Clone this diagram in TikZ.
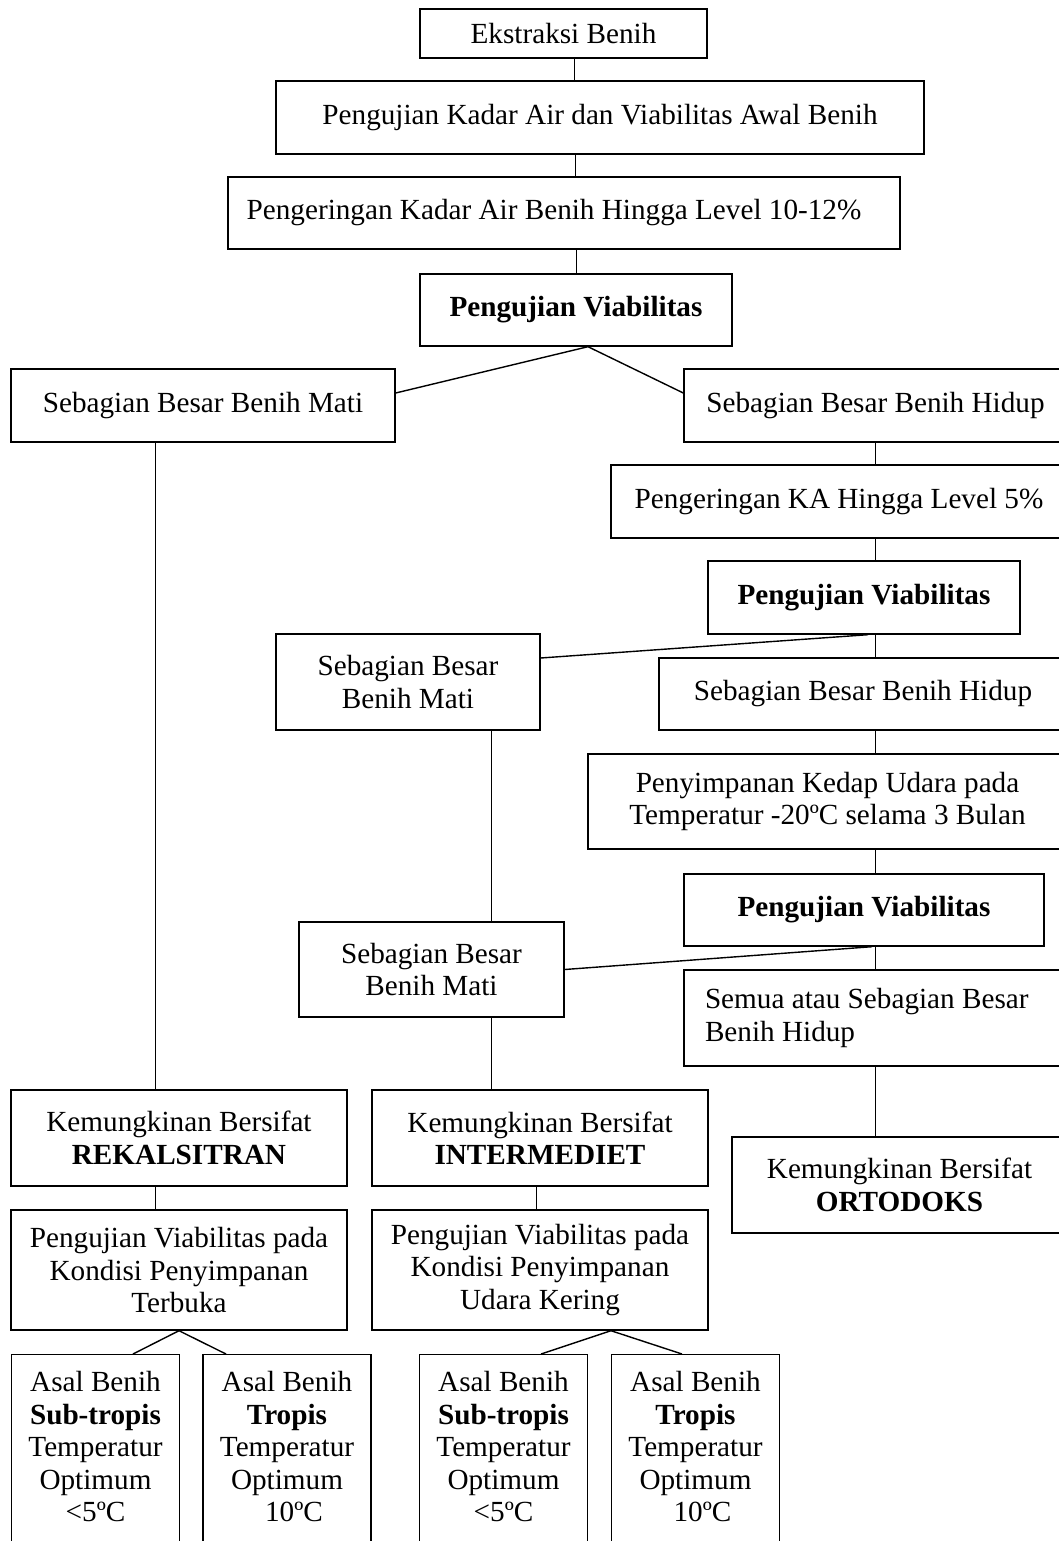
\documentclass[tikz,border=0pt]{standalone}
\usepackage{fontspec}
\setmainfont{Liberation Serif}
\newcommand{\leaftext}[1]{\parbox[t][200pt][t]{168pt}{\centering #1}}

\begin{document}
\begin{tikzpicture}[x=1pt,y=-1pt,
  every node/.style={font=\fontsize{29.2}{32.5}\selectfont},
  box/.style={draw,line width=1.4pt,inner sep=0pt,align=center},
  leaf/.style={draw,line width=1.4pt,anchor=north,inner xsep=0pt,inner ysep=17pt},
  link/.style={line width=1pt},
  fork/.style={line width=1.4pt}]
\useasboundingbox (0,0) rectangle (1059,1541);
\clip (0,0) rectangle (1059,1541);
\node[box,minimum width=287,minimum height=49] (ekstraksi) at (563.5,33.5) {Ekstraksi Benih};
\node[box,minimum width=648,minimum height=73] (ujiawal) at (600,117.5) {Pengujian Kadar Air dan Viabilitas Awal Benih};
\node[box,minimum width=672,minimum height=72] (kering1) at (564,213) {Pengeringan Kadar Air Benih Hingga Level 10-12\%\hspace*{20pt}};
\node[box,minimum width=312,minimum height=72] (uji1) at (576,310) {\textbf{Pengujian Viabilitas}};
\node[box,minimum width=384,minimum height=73] (mati1) at (203,405.5) {Sebagian Besar Benih Mati};
\node[box,minimum width=383,minimum height=73] (hidup1) at (875.5,405.5) {Sebagian Besar Benih Hidup};
\node[box,minimum width=456,minimum height=73] (kering2) at (839,501.5) {Pengeringan KA Hingga Level 5\%};
\node[box,minimum width=312,minimum height=73] (uji2) at (864,597.5) {\textbf{Pengujian Viabilitas}};
\node[box,minimum width=264,minimum height=96] (mati2) at (408,682) {Sebagian Besar\\Benih Mati};
\node[box,minimum width=408,minimum height=72] (hidup2) at (863,694) {Sebagian Besar Benih Hidup};
\node[box,minimum width=479,minimum height=95] (simpan) at (827.5,801.5) {Penyimpanan Kedap Udara pada\\Temperatur -20ºC selama 3 Bulan};
\node[box,minimum width=360,minimum height=72] (uji3) at (864,910) {\textbf{Pengujian Viabilitas}};
\node[box,minimum width=265,minimum height=95] (mati3) at (431.5,969.5) {Sebagian Besar\\Benih Mati};
\node[box,align=flush left,text width=341,inner xsep=21,minimum height=96] (semua) at (875.5,1018) {Semua atau Sebagian Besar\\Benih Hidup};
\node[box,minimum width=336,minimum height=96] (rekal) at (179,1138) {Kemungkinan Bersifat\\\textbf{REKALSITRAN}};
\node[box,minimum width=336,minimum height=96] (inter) at (540,1138) {Kemungkinan Bersifat\\\textbf{INTERMEDIET}};
\node[box,minimum width=335,minimum height=96] (orto) at (899.5,1185) {Kemungkinan Bersifat\\\textbf{ORTODOKS}};
\node[box,minimum width=336,minimum height=120] (terbuka) at (179,1270) {Pengujian Viabilitas pada\\Kondisi Penyimpanan\\Terbuka};
\node[box,minimum width=336,minimum height=120] (udara) at (540,1270) {Pengujian Viabilitas pada\\Kondisi Penyimpanan\\Udara Kering};
\node[leaf] (leafa) at (95.5,1354) {\leaftext{Asal Benih\\\textbf{Sub-tropis}\\Temperatur\\Optimum\\<5ºC}};
\node[leaf] (leafb) at (287,1354) {\leaftext{Asal Benih\\\textbf{Tropis}\\Temperatur\\Optimum\\\hspace*{14pt}10ºC}};
\node[leaf] (leafc) at (503.5,1354) {\leaftext{Asal Benih\\\textbf{Sub-tropis}\\Temperatur\\Optimum\\<5ºC}};
\node[leaf] (leafd) at (695.5,1354) {\leaftext{Asal Benih\\\textbf{Tropis}\\Temperatur\\Optimum\\\hspace*{14pt}10ºC}};
\draw[link] ([xshift=10.5pt]ekstraksi.south) -- ([xshift=10.5pt]ekstraksi.south |- ujiawal.north);
\draw[link] ([xshift=11pt]kering1.north) -- ([xshift=11pt]kering1.north |- ujiawal.south);
\draw[link] (uji1.north) -- (uji1.north |- kering1.south);
\draw[fork] ([yshift=12.5pt]mati1.east) -- ([xshift=12pt]uji1.south) -- ([yshift=12.5pt]hidup1.west);
\draw[link] ([xshift=-48pt]mati1.south) -- ([xshift=-48pt]mati1.south |- rekal.north);
\draw[link] (hidup1.south) -- (hidup1.south |- kering2.north);
\draw[link] (kering2.south -| hidup1) -- (uji2.north -| hidup1);
\draw[fork] ([yshift=24pt]mati2.east) -- ([xshift=4pt]uji2.south);
\draw[link] (uji2.south -| hidup1) -- (hidup2.north -| hidup1);
\draw[link] ([xshift=83pt]mati2.south) -- ([xshift=83pt]mati2.south |- mati3.north);
\draw[link] (hidup2.south -| hidup1) -- (simpan.north -| hidup1);
\draw[link] (simpan.south -| hidup1) -- (uji3.north -| hidup1);
\draw[fork] (mati3.east) -- ([xshift=8pt]uji3.south);
\draw[link] (uji3.south -| hidup1) -- (semua.north -| hidup1);
\draw[link] (semua.south -| hidup1) -- (orto.north -| hidup1);
\draw[link] ([xshift=83pt]mati2.south |- mati3.south) -- ([xshift=83pt]mati2.south |- inter.north);
\draw[link] ([xshift=-24pt]rekal.south) -- ([xshift=-24pt]rekal.south |- terbuka.north);
\draw[link] ([xshift=-4pt]inter.south) -- ([xshift=-4pt]inter.south |- udara.north);
\draw[fork] ([xshift=37.5pt]leafa.north) -- (terbuka.south) -- ([xshift=-61pt]leafb.north);
\draw[fork] ([xshift=37.5pt]leafc.north) -- ([xshift=71pt]udara.south) -- ([xshift=-13.5pt]leafd.north);
\end{tikzpicture}
\end{document}
